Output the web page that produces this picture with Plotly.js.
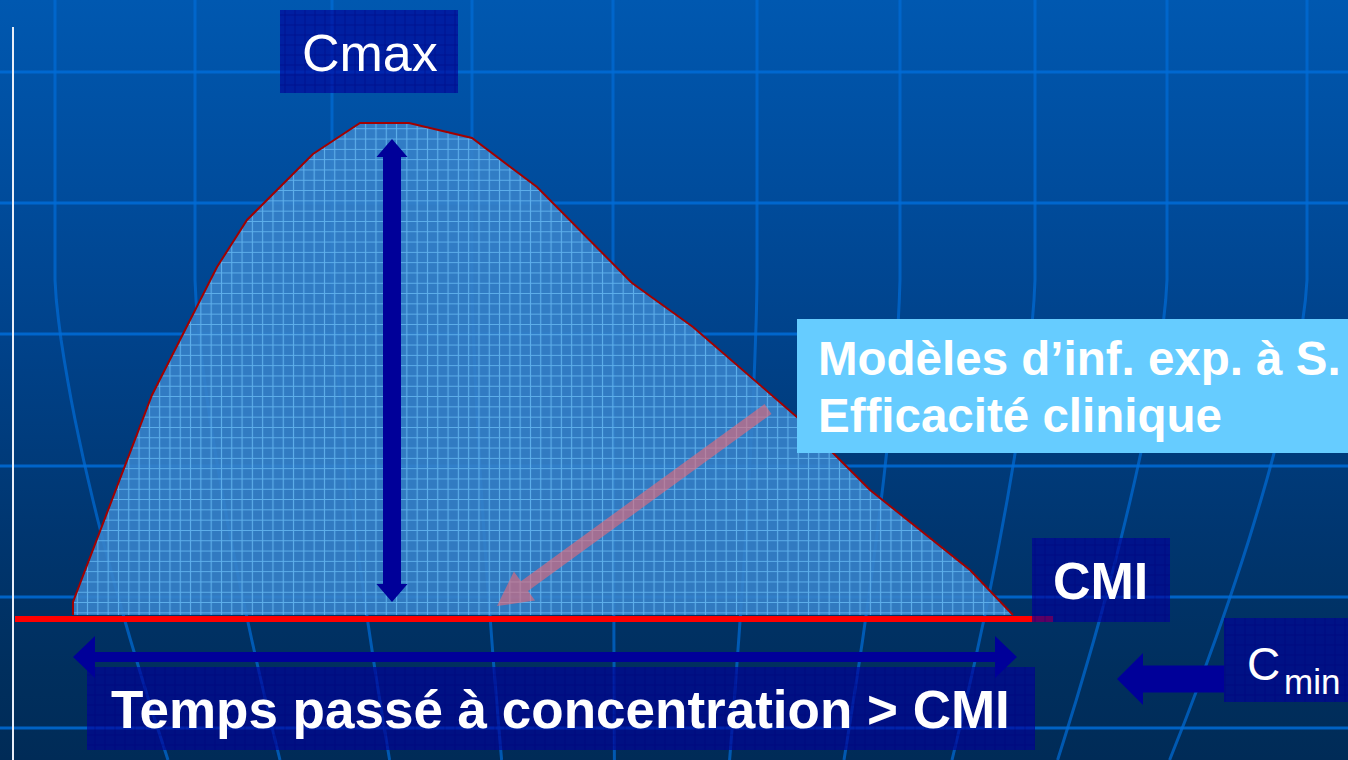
<!DOCTYPE html>
<html>
<head>
<meta charset="utf-8">
<script src="https://cdn.plot.ly/plotly-3.0.1.min.js"></script>
<style>
  html, body { margin: 0; padding: 0; overflow: hidden; }
  #chart {
    width: 1348px; height: 760px;
    background: linear-gradient(to bottom, #0058B0 0%, #004C9C 25%, #00428A 45%, #003670 70%, #002F5E 88%, #002B57 100%);
  }
</style>
</head>
<body>
<div id="chart"></div>
<script>
// ---- Data (time on x, concentration on y; axis units) ----
const time = [73, 73, 152, 217, 247, 313, 360, 409, 472, 537, 632, 693, 798, 870, 970, 1013];
const conc = [145, 158, 365, 493, 540, 606, 637, 637, 622, 573, 477, 433, 342, 270, 190, 145];
const cmi = 141;
const cmiLineTime = [15, 1053];

// ---- Labels ----
const labelCmax = 'Cmax';
const labelCMI = 'CMI';
const labelC = 'C';
const labelMin = 'min';
const labelModel = 'Modèles d’inf. exp. à S.';
const labelEff = 'Efficacité clinique';
const labelTime = 'Temps passé à concentration > CMI';

const W = 1348, H = 760;
const Y = py => H - py;
const FONT = '"Liberation Sans", Arial, sans-serif';

function arrowPath(ax, ay, bx, by, sw, hw, hl, both) {
  const dx = bx - ax, dy = by - ay, L = Math.hypot(dx, dy);
  const ux = dx / L, uy = dy / L, nx = -uy, ny = ux;
  const p = (t, s) => [ax + ux * t + nx * s, ay + uy * t + ny * s];
  const pts = [];
  if (both) { pts.push(p(0, 0), p(hl, hw / 2), p(hl, sw / 2)); } else { pts.push(p(0, sw / 2)); }
  pts.push(p(L - hl, sw / 2), p(L - hl, hw / 2), p(L, 0), p(L - hl, -hw / 2), p(L - hl, -sw / 2));
  if (both) { pts.push(p(hl, -sw / 2), p(hl, -hw / 2)); } else { pts.push(p(0, -sw / 2)); }
  return 'M' + pts.map(q => q[0].toFixed(1) + ',' + Y(q[1]).toFixed(1)).join('L') + 'Z';
}

// ---- background globe grid (decoration) ----
const shapes = [];
[72, 203, 334, 466, 597, 728].forEach(py => {
  shapes.push({type: 'line', layer: 'below', xref: 'x', yref: 'y', x0: 0, x1: W, y0: Y(py), y1: Y(py),
    line: {color: 'rgba(0,108,215,0.85)', width: 3}});
});
[55, 195, 332, 472, 613, 757, 900, 1035, 1167, 1307].forEach(x0 => {
  let d = '';
  for (let py = 0; py <= H; py += 20) {
    const f = py < 280 ? 0 : 0.2 * Math.pow((py - 280) / 480, 1.4);
    const x = x0 + (620 - x0) * f;
    d += (py === 0 ? 'M' : 'L') + x.toFixed(1) + ',' + Y(py).toFixed(1);
  }
  shapes.push({type: 'path', layer: 'below', xref: 'x', yref: 'y', path: d,
    line: {color: 'rgba(0,108,215,0.7)', width: 3}});
});
// white vertical axis
shapes.push({type: 'line', layer: 'below', xref: 'x', yref: 'y', x0: 13, x1: 13, y0: Y(27), y1: Y(760),
  line: {color: '#E8EEF8', width: 2}});

// light blue label box
shapes.push({type: 'rect', layer: 'above', xref: 'x', yref: 'y', x0: 797, x1: W, y0: Y(453), y1: Y(319),
  fillcolor: '#66CCFF', line: {width: 0}});
// pink arrow
shapes.push({type: 'path', layer: 'above', xref: 'x', yref: 'y',
  path: arrowPath(768, 409, 497, 606, 12, 36, 34, false),
  fillcolor: 'rgba(232,105,120,0.62)', line: {width: 0}});
// vertical Cmax arrow
shapes.push({type: 'path', layer: 'above', xref: 'x', yref: 'y',
  path: arrowPath(392, 602, 392, 139, 18, 31, 18, true),
  fillcolor: '#000099', line: {width: 0}});
// horizontal time arrow
shapes.push({type: 'path', layer: 'above', xref: 'x', yref: 'y',
  path: arrowPath(time[0], 657, 1017, 657, 10, 42, 22, true),
  fillcolor: '#000099', line: {width: 0}});
// Cmin arrow
shapes.push({type: 'path', layer: 'above', xref: 'x', yref: 'y',
  path: arrowPath(1224, 679, 1117, 679, 27, 52, 26, false),
  fillcolor: '#000099', line: {width: 0}});

function boxTrace(x0, x1, py0, py1) {
  return {type: 'scatter', x: [x0, x1, x1, x0, x0], y: [Y(py0), Y(py0), Y(py1), Y(py1), Y(py0)],
    fill: 'toself', mode: 'none', hoverinfo: 'skip', showlegend: false,
    fillcolor: 'rgba(0,0,155,0.64)',
    fillpattern: {shape: '+', size: 10, solidity: 0.15, bgcolor: 'rgba(0,0,155,0.64)', fgcolor: 'rgba(0,0,120,0.7)', fgopacity: 0.7}};
}

const traces = [
  {type: 'scatter', x: time, y: conc, mode: 'lines', fill: 'toself',
    line: {color: '#A00000', width: 2},
    fillcolor: 'rgba(56,132,204,0.9)',
    fillpattern: {shape: '+', size: 10.3, solidity: 0.2, bgcolor: 'rgba(54,130,202,0.9)', fgcolor: '#62B6F0', fgopacity: 0.9},
    hoverinfo: 'skip', showlegend: false},
  {type: 'scatter', x: cmiLineTime, y: [cmi, cmi], mode: 'lines',
    line: {color: '#FF0000', width: 6}, hoverinfo: 'skip', showlegend: false},
  boxTrace(280, 458, 10, 93),
  boxTrace(1032, 1170, 538, 622),
  boxTrace(1224, 1348, 618, 702),
  boxTrace(87, 1035, 667, 750)
];

const ann = (text, x, py, size, bold, xanchor) => ({
  text: bold ? '<b>' + text + '</b>' : text, x: x, y: Y(py), xref: 'x', yref: 'y',
  xanchor: xanchor || 'center', yanchor: 'middle', showarrow: false,
  font: {family: FONT, size: size, color: '#FFFFFF'}
});

const annotations = [
  ann(labelCmax, 370, 53, 52, false),
  ann(labelCMI, 1100, 581, 52, true),
  ann(labelC, 1245, 664, 46, false, 'left'),
  ann(labelMin, 1282, 681, 35, false, 'left'),
  ann(labelModel, 816, 358, 47.5, true, 'left'),
  ann(labelEff, 816, 415, 47.5, true, 'left'),
  ann(labelTime, 560, 709, 53, true)
];

const layout = {
  width: W, height: H,
  margin: {l: 0, r: 0, t: 0, b: 0},
  paper_bgcolor: 'rgba(0,0,0,0)', plot_bgcolor: 'rgba(0,0,0,0)',
  xaxis: {range: [0, W], visible: false, fixedrange: true},
  yaxis: {range: [0, H], visible: false, fixedrange: true},
  showlegend: false,
  shapes: shapes,
  annotations: annotations
};

Plotly.newPlot('chart', traces, layout, {displayModeBar: false, staticPlot: true});
</script>
</body>
</html>
